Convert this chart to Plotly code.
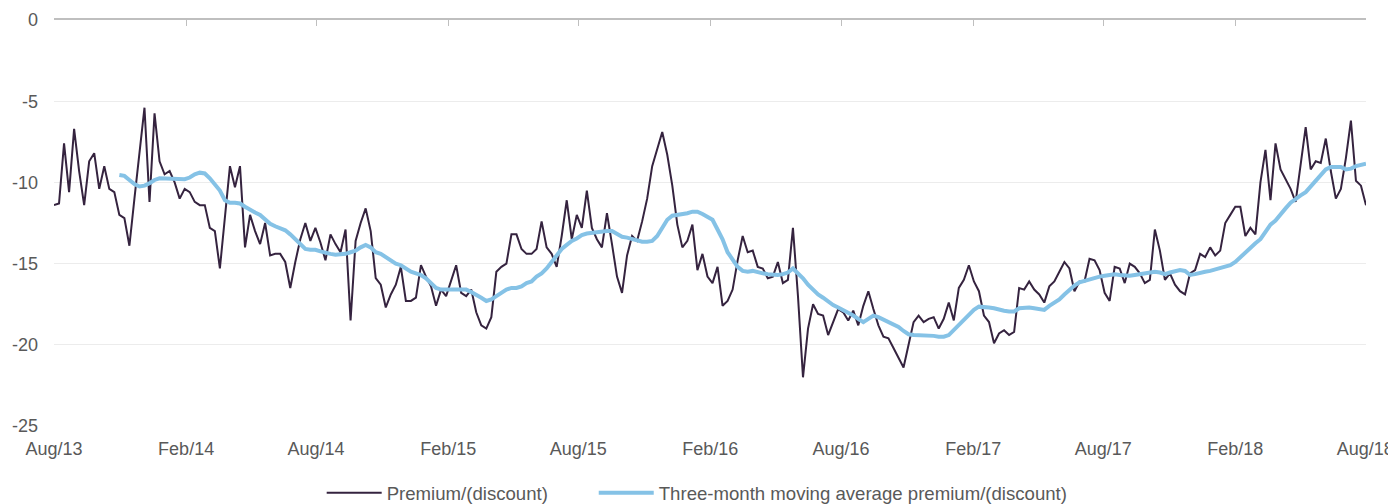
import pandas as pd
import plotly.graph_objects as go

# weekly observations starting 1 Aug 2013
start_date = "2013-08-01"

premium = [
    -11.4, -11.3, -7.6, -10.6, -6.7, -9.3, -11.4, -8.7, -8.2, -10.4,
    -9.0, -10.4, -10.6, -12.0, -12.2, -13.9, -11.0, -8.3, -5.4, -11.2,
    -5.75, -8.7, -9.5, -9.3, -10.0, -11.0, -10.4, -10.6, -11.2, -11.4,
    -11.4, -12.8, -13.0, -15.3, -12.3, -9.0, -10.3, -9.0, -14.0, -12.0,
    -13.0, -13.8, -12.5, -14.5, -14.4, -14.4, -14.9, -16.5, -14.9, -13.5,
    -12.5, -13.6, -12.8, -13.7, -14.8, -13.2, -13.8, -14.3, -12.9, -18.5,
    -13.6, -12.5, -11.6, -13.0, -15.9, -16.3, -17.7, -16.9, -16.3, -15.2,
    -17.3, -17.3, -17.1, -15.1, -15.8, -16.4, -17.6, -16.6, -17.0, -16.0,
    -15.1, -16.8, -17.0, -16.6, -18.0, -18.8, -19.0, -18.3, -15.5, -15.2,
    -15.0, -13.2, -13.2, -14.1, -14.4, -14.4, -14.1, -12.4, -14.0, -14.4,
    -15.2, -13.3, -11.1, -13.5, -12.0, -12.8, -10.5, -12.8, -13.5, -14.0,
    -11.9, -13.8, -15.8, -16.8, -14.5, -13.3, -13.6, -12.4, -11.0, -9.0,
    -8.0, -6.9, -8.3, -10.2, -12.6, -14.0, -13.6, -12.6, -15.4, -14.4,
    -15.8, -16.2, -15.2, -17.6, -17.3, -16.6, -14.8, -13.3, -14.3, -14.2,
    -15.2, -15.3, -15.9, -15.8, -14.9, -16.2, -16.0, -12.8, -17.0, -22.0,
    -19.0, -17.5, -18.1, -18.2, -19.4, -18.6, -17.8, -18.0, -18.5, -17.9,
    -18.8, -17.6, -16.7, -17.8, -18.8, -19.5, -19.6, -20.2, -20.8, -21.4,
    -20.0, -18.6, -18.2, -18.6, -18.4, -18.3, -19.0, -18.4, -17.4, -18.5,
    -16.5, -16.0, -15.1, -16.1, -16.7, -18.2, -18.6, -19.9, -19.3, -19.1,
    -19.4, -19.2, -16.5, -16.6, -16.1, -16.6, -16.9, -17.4, -16.4, -16.1,
    -15.5, -14.9, -15.3, -16.7, -16.1, -16.1, -14.7, -14.8, -15.4, -16.8,
    -17.3, -15.2, -15.3, -16.2, -15.0, -15.2, -15.6, -16.2, -16.0, -12.9,
    -14.2, -16.0, -15.6, -16.3, -16.7, -16.9, -15.6, -15.4, -14.4, -14.6,
    -14.0, -14.5, -14.2, -12.5, -12.0, -11.5, -11.5, -13.3, -12.8, -13.2,
    -10.0, -8.0, -11.1, -7.6, -9.2, -9.8, -10.4, -11.2, -8.8, -6.6,
    -9.2, -8.7, -8.8, -7.3, -9.3, -11.0, -10.4, -8.5, -6.2, -9.9,
    -10.2, -11.4,
]

# three-month moving average begins at week 13
ma_offset = 13
moving_avg = [
    -9.55, -9.6, -9.85, -10.1, -10.25, -10.2, -10.05, -9.85, -9.75, -9.75,
    -9.75, -9.8, -9.8, -9.8, -9.7, -9.5, -9.4, -9.45, -9.75, -10.1,
    -10.5, -11.1, -11.25, -11.25, -11.3, -11.5, -11.7, -11.85, -12.0, -12.25,
    -12.55, -12.7, -12.8, -12.95, -13.2, -13.5, -13.85, -14.1, -14.15, -14.15,
    -14.25, -14.35, -14.4, -14.45, -14.45, -14.4, -14.3, -14.2, -14.0, -13.85,
    -14.0, -14.3, -14.4, -14.6, -14.85, -15.0, -15.1, -15.3, -15.5, -15.6,
    -15.7, -15.9, -16.2, -16.5, -16.6, -16.6, -16.6, -16.55, -16.6, -16.6,
    -16.75, -16.9, -17.1, -17.3, -17.2, -17.0, -16.8, -16.6, -16.5, -16.5,
    -16.4, -16.2, -16.1, -15.8, -15.6, -15.3, -14.9, -14.45, -14.1, -13.85,
    -13.6, -13.45, -13.25, -13.15, -13.1, -13.05, -13.0, -13.0, -13.0, -13.15,
    -13.35, -13.4, -13.5, -13.6, -13.65, -13.65, -13.6, -13.3, -12.8, -12.3,
    -12.05, -12.0, -12.0, -11.9, -11.8, -11.8, -11.95, -12.1, -12.3, -12.9,
    -13.5, -14.3, -14.8, -15.2, -15.45, -15.5, -15.45, -15.55, -15.6, -15.65,
    -15.7, -15.7, -15.65, -15.55, -15.3, -15.6, -15.9, -16.3, -16.6, -16.9,
    -17.1, -17.35, -17.55, -17.7, -17.85, -18.0, -18.2, -18.4, -18.6, -18.4,
    -18.2, -18.3, -18.45, -18.6, -18.7, -18.9, -19.15, -19.35, -19.4, -19.4,
    -19.4, -19.4, -19.45, -19.5, -19.5, -19.4, -19.1, -18.8, -18.45, -18.2,
    -17.85, -17.65, -17.65, -17.7, -17.75, -17.85, -17.9, -17.95, -17.95, -17.75,
    -17.7, -17.7, -17.75, -17.8, -17.85, -17.6, -17.4, -17.2, -16.9, -16.6,
    -16.35, -16.15, -16.05, -15.95, -15.85, -15.8, -15.75, -15.7, -15.65, -15.7,
    -15.75, -15.75, -15.7, -15.65, -15.65, -15.6, -15.5, -15.55, -15.65, -15.55,
    -15.45, -15.4, -15.45, -15.7, -15.65, -15.55, -15.5, -15.45, -15.35, -15.25,
    -15.15, -15.1, -14.9, -14.6, -14.35, -14.05, -13.75, -13.5, -13.1, -12.6,
    -12.35, -11.95, -11.6, -11.25, -11.0, -10.8, -10.6, -10.25, -9.9, -9.55,
    -9.2, -9.05, -9.05, -9.05, -9.2, -9.15, -9.0, -8.95, -8.85,
]

y_ticks = [0, -5, -10, -15, -20, -25]
y_tick_text = ["0", "-5", "-10", "-15", "-20", "-25"]
series_names = ["Premium/(discount)", "Three-month moving average premium/(discount)"]

dates = pd.date_range(start_date, periods=len(premium), freq="7D")
ma_dates = dates[ma_offset:ma_offset + len(moving_avg)]

FONT = "Liberation Sans, Arial, sans-serif"
TXT = "#595959"
FS = 18

fig = go.Figure()
fig.add_trace(go.Scatter(x=dates, y=premium, mode="lines", name=series_names[0],
                         line=dict(color="#35233f", width=2), legend="legend"))
fig.add_trace(go.Scatter(x=ma_dates, y=moving_avg, mode="lines", name=series_names[1],
                         line=dict(color="#85c2e6", width=4), legend="legend2"))
# invisible helper trace to draw the top axis with ticks
fig.add_trace(go.Scatter(x=dates, y=premium, mode="lines", xaxis="x2",
                         line=dict(color="rgba(0,0,0,0)", width=0),
                         showlegend=False, hoverinfo="skip"))

legend_common = dict(orientation="h", xref="container", xanchor="left",
                     yref="container", y=0.022, yanchor="middle",
                     font=dict(family=FONT, size=18.6, color=TXT), itemwidth=55,
                     bgcolor="rgba(0,0,0,0)")

xr = ["2013-08-01", "2018-08-02"]
fig.update_layout(
    width=1388, height=496,
    margin=dict(l=46, r=30, t=12, b=78, autoexpand=False),
    paper_bgcolor="white", plot_bgcolor="white",
    font=dict(family=FONT, size=FS, color=TXT),
    showlegend=True,
    legend=dict(x=0.226, **legend_common),
    legend2=dict(x=0.422, **legend_common),
    xaxis=dict(type="date", range=xr, tick0="2013-08-01", dtick="M6",
               tickformat="%b/%y", showgrid=False, showline=False, zeroline=False,
               ticks="", ticklabelstandoff=10, automargin=False,
               tickfont=dict(size=FS, color=TXT)),
    xaxis2=dict(type="date", overlaying="x", matches="x", side="top", anchor="y",
                tick0="2013-08-01", dtick="M6", showticklabels=False,
                showline=True, linecolor="#bfbfbf", linewidth=2,
                ticks="inside", ticklen=6, tickcolor="#bfbfbf", tickwidth=1,
                showgrid=False, zeroline=False, automargin=False),
    yaxis=dict(range=[-25, 0], tickvals=y_ticks, ticktext=y_tick_text,
               showgrid=True, gridcolor="#ececec",
               gridwidth=1, zeroline=False, showline=False, ticks="",
               ticklabelstandoff=15, automargin=False,
               tickfont=dict(size=FS, color=TXT)),
)

fig.write_html("out.html")
